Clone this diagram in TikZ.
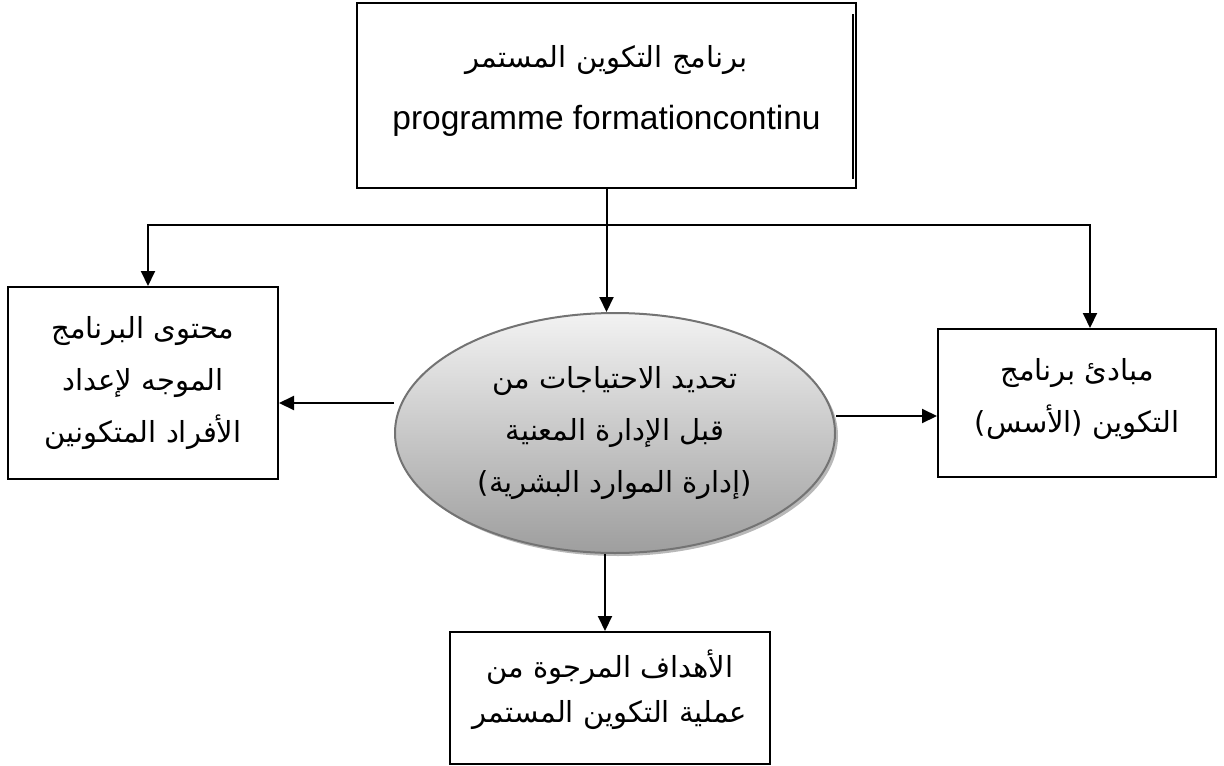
\documentclass[tikz,border=0pt]{standalone}
\usepackage{fontspec}
\setmainfont{Liberation Sans}
\newfontfamily\arabicfont[Script=Arabic]{DejaVu Sans}
\usetikzlibrary{arrows.meta,shapes.geometric,shadows}
\TeXXeTstate=1
\newcommand\arline[1]{\beginR#1\endR}

\begin{document}
\begin{tikzpicture}[x=1pt,y=-1pt,
  box/.style={draw,line width=2pt,inner sep=0pt,align=center,
    font=\arabicfont\fontsize{29}{52}\selectfont},
  oval/.style={ellipse,draw=black!55,line width=2pt,inner sep=0pt,align=center,
    top color=black!5,bottom color=black!38,
    drop shadow={shadow xshift=3pt,shadow yshift=-3pt,fill=black!28,opacity=1},
    font=\arabicfont\fontsize{29}{52}\selectfont},
  arr/.style={line width=2pt,-{Triangle[length=15pt,width=14pt]}}]
\useasboundingbox (0,0) rectangle (1224,766);
% boxes
\node[box,minimum width=499,minimum height=185] (prog) at (606.5,95.5)
  {\arline{برنامج التكوين المستمر}\\[10pt]
   {\normalfont\fontsize{33.5}{40}\selectfont programme formationcontinu\rule[-17pt]{0pt}{0pt}}};
\draw[line width=1.3pt] ([xshift=-4pt,yshift=-12pt]prog.north east)
  -- ([xshift=-4pt,yshift=10pt]prog.south east);
\node[box,minimum width=270,minimum height=192] (content) at (143,383)
  {\arline{محتوى البرنامج}\\ \arline{الموجه لإعداد}\\ \arline{الأفراد المتكونين}};
\node[box,minimum width=278,minimum height=148] (principles) at (1077,403)
  {\arline{مبادئ برنامج}\\ \arline{التكوين (الأسس)}\rule[-15pt]{0pt}{0pt}};
\node[oval,minimum width=440,minimum height=240] (need) at (615,433)
  {\arline{تحديد الاحتياجات من}\\ \arline{قبل الإدارة المعنية}\\ \arline{(إدارة الموارد البشرية)}};
\node[box,minimum width=320,minimum height=132,
  font=\arabicfont\fontsize{29}{45}\selectfont] (goals) at (610,698)
  {\arline{الأهداف المرجوة من}\\ \arline{عملية التكوين المستمر}\rule[-23pt]{0pt}{0pt}};
% connectors
\coordinate (split) at (606.5,225);
\draw[line width=2pt] (prog.south) -- (split);
\draw[arr] (split) -- (split |- need.north);
\draw[arr] (split) -| ([xshift=5pt]content.north);
\draw[arr] (split) -| ([xshift=13pt]principles.north);
\coordinate (lefttip) at ([yshift=30pt]need.west);
\draw[arr] (lefttip) -- (lefttip -| content.east);
\coordinate (righttip) at ([yshift=17pt]need.east);
\draw[arr] (righttip) -- (righttip -| principles.west);
\coordinate (downtip) at ([xshift=-10pt]need.south);
\draw[arr] (downtip) -- (downtip |- goals.north);
\end{tikzpicture}
\end{document}
